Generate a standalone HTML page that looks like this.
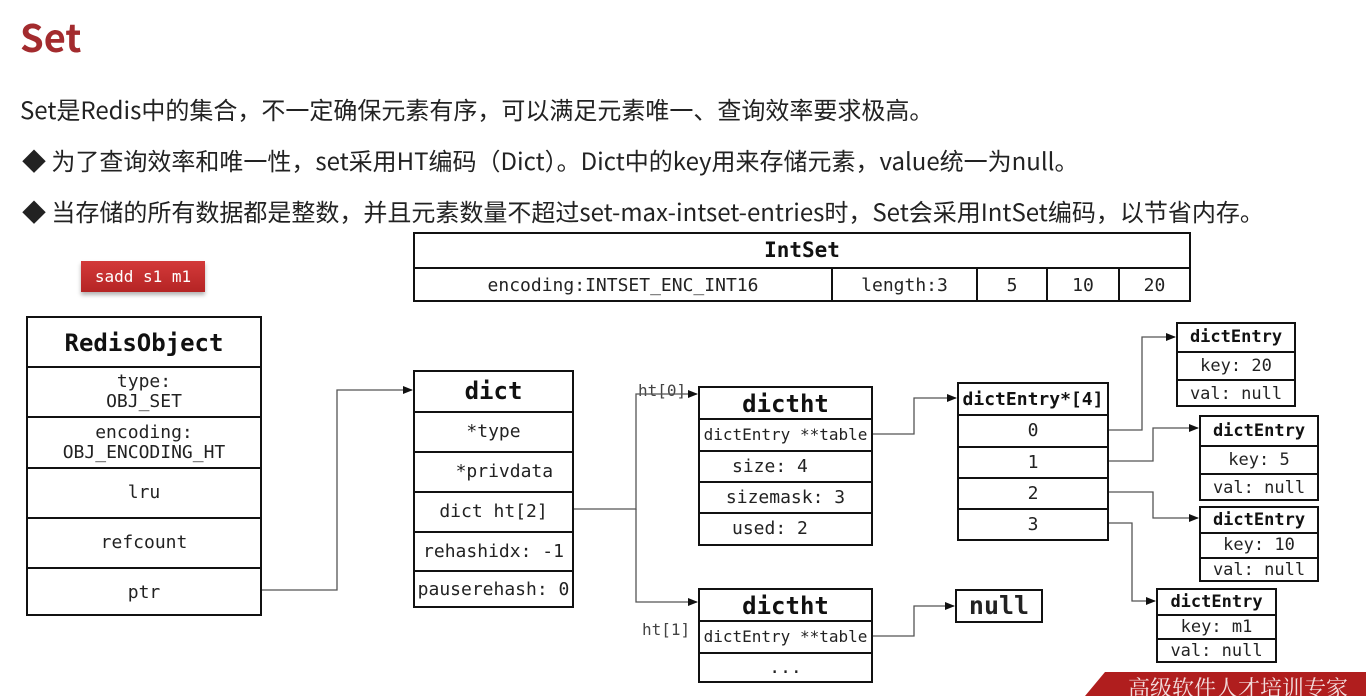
<!DOCTYPE html>
<html><head><meta charset="utf-8">
<style>
*{margin:0;padding:0;box-sizing:border-box}
body{width:1366px;height:696px;background:#fff;position:relative;overflow:hidden;font-family:"Noto Sans CJK SC","Liberation Sans",sans-serif;color:#222}
.t{position:absolute;white-space:nowrap}
.b{position:absolute;border:2px solid #111;background:#fff}
.r{position:absolute;left:0;right:0;border-top:2px solid #111;display:flex;align-items:center;justify-content:center;text-align:center;font-family:"DejaVu Sans Mono",monospace;font-size:18px;color:#222;line-height:1.1}
.r.h{border-top:none;font-weight:bold;color:#111}
.m{font-family:"DejaVu Sans Mono",monospace}
.e .r{font-size:17px}
</style></head><body>
<div class="t" style="left:20px;top:8px;font-size:38px;font-weight:bold;color:#a32b2e">Set</div>
<div class="t" style="left:20px;top:91px;font-size:24px">Set是Redis中的集合，不一定确保元素有序，可以满足元素唯一、查询效率要求极高。</div>
<div class="t" style="left:22px;top:142px;font-size:24px">◆ 为了查询效率和唯一性，set采用HT编码（Dict）。Dict中的key用来存储元素，value统一为null。</div>
<div class="t" style="left:22px;top:193px;font-size:24px">◆ 当存储的所有数据都是整数，并且元素数量不超过set-max-intset-entries时，Set会采用IntSet编码，以节省内存。</div>

<div class="t m" style="left:81px;top:261px;width:124px;height:31px;background:linear-gradient(#d33a3a,#b52424);color:#fff;font-size:16px;line-height:31px;text-align:center;box-shadow:0 3px 4px rgba(0,0,0,.3)">sadd s1 m1</div>

<div class="b" style="left:413px;top:232px;width:778px;height:70px">
<div class="r h" style="top:0;height:33px;font-size:21px">IntSet</div>
<div class="r" style="top:33px;height:35px;justify-content:flex-start">
<span style="width:416px;text-align:center">encoding:INTSET_ENC_INT16</span>
<span style="width:145px;text-align:center;border-left:2px solid #111;height:100%;line-height:33px">length:3</span>
<span style="width:70px;text-align:center;border-left:2px solid #111;height:100%;line-height:33px">5</span>
<span style="width:72px;text-align:center;border-left:2px solid #111;height:100%;line-height:33px">10</span>
<span style="width:71px;text-align:center;border-left:2px solid #111;height:100%;line-height:33px">20</span>
</div></div>

<div class="b" style="left:26px;top:316px;width:236px;height:300px">
<div class="r h" style="top:0;height:50px;font-size:24px">RedisObject</div>
<div class="r" style="top:48px;height:50px">type:<br>OBJ_SET</div>
<div class="r" style="top:98px;height:51px">encoding:<br>OBJ_ENCODING_HT</div>
<div class="r" style="top:149px;height:50px">lru</div>
<div class="r" style="top:199px;height:50px">refcount</div>
<div class="r" style="top:249px;height:49px">ptr</div>
</div>

<div class="b" style="left:413px;top:370px;width:161px;height:238px">
<div class="r h" style="top:0;height:39px;font-size:24px">dict</div>
<div class="r" style="top:39px;height:40px">*type</div>
<div class="r" style="top:79px;height:40px">&nbsp;&nbsp;*privdata</div>
<div class="r" style="top:119px;height:40px">dict ht[2]</div>
<div class="r" style="top:159px;height:39px">rehashidx: -1</div>
<div class="r" style="top:198px;height:38px">pauserehash: 0</div>
</div>

<div class="b" style="left:698px;top:386px;width:175px;height:160px">
<div class="r h" style="top:0;height:32px;font-size:24px">dictht</div>
<div class="r" style="top:30px;height:32px;font-size:16px">dictEntry **table</div>
<div class="r" style="top:62px;height:31px;justify-content:flex-start;padding-left:32px">size: 4</div>
<div class="r" style="top:93px;height:31px">sizemask: 3</div>
<div class="r" style="top:124px;height:32px;justify-content:flex-start;padding-left:32px">used: 2</div>
</div>
<div class="b" style="left:698px;top:588px;width:175px;height:95px">
<div class="r h" style="top:0;height:32px;font-size:24px">dictht</div>
<div class="r" style="top:30px;height:32px;font-size:16px">dictEntry **table</div>
<div class="r" style="top:62px;height:29px">...</div>
</div>

<div class="b" style="left:957px;top:382px;width:152px;height:159px">
<div class="r h" style="top:0;height:32px;font-size:18px">dictEntry*[4]</div>
<div class="r" style="top:30px;height:32px">0</div>
<div class="r" style="top:62px;height:31px">1</div>
<div class="r" style="top:93px;height:31px">2</div>
<div class="r" style="top:124px;height:31px">3</div>
</div>
<div class="b m" style="left:955px;top:589px;width:88px;height:34px;font-weight:bold;font-size:25px;text-align:center;line-height:30px">null</div>

<div class="b e" style="left:1176px;top:322px;width:120px;height:85px">
<div class="r h" style="top:0;height:27px">dictEntry</div>
<div class="r" style="top:27px;height:28px">key: 20</div>
<div class="r" style="top:55px;height:28px">val: null</div></div>
<div class="b e" style="left:1199px;top:415px;width:120px;height:86px">
<div class="r h" style="top:0;height:28px">dictEntry</div>
<div class="r" style="top:28px;height:28px">key: 5</div>
<div class="r" style="top:56px;height:28px">val: null</div></div>
<div class="b e" style="left:1199px;top:506px;width:120px;height:76px">
<div class="r h" style="top:0;height:24px">dictEntry</div>
<div class="r" style="top:24px;height:25px">key: 10</div>
<div class="r" style="top:49px;height:25px">val: null</div></div>
<div class="b e" style="left:1156px;top:588px;width:121px;height:75px">
<div class="r h" style="top:0;height:24px">dictEntry</div>
<div class="r" style="top:24px;height:24px">key: m1</div>
<div class="r" style="top:48px;height:25px">val: null</div></div>

<div class="t m" style="left:638px;top:381px;font-size:16px;color:#444">ht[0]</div>
<div class="t m" style="left:642px;top:620px;font-size:16px;color:#444">ht[1]</div>

<svg style="position:absolute;left:0;top:0" width="1366" height="696">
<defs><marker id="a" markerWidth="10" markerHeight="8" refX="9" refY="4" orient="auto" markerUnits="userSpaceOnUse"><path d="M0,0L10,4L0,8z" fill="#111"/></marker></defs>
<g fill="none" stroke="#555" stroke-width="1.3" marker-end="url(#a)">
<path d="M262,590H337V390H412"/>
<path d="M574,509H636V394H697"/>
<path d="M636,509V602H697"/>
<path d="M873,434H914V398H956"/>
<path d="M873,636H914V606H954"/>
<path d="M1109,430H1142V337H1175"/>
<path d="M1109,461H1153V428H1198"/>
<path d="M1109,492H1153V518H1198"/>
<path d="M1109,523H1132V601H1155"/>
</g>
<path d="M1085,696L1105,672H1366V696Z" fill="#b01e1e"/>
<text x="1128" y="696" font-family="Noto Serif CJK SC,serif" font-size="22" fill="#f3dede">高级软件人才培训专家</text>
</svg>
</body></html>
